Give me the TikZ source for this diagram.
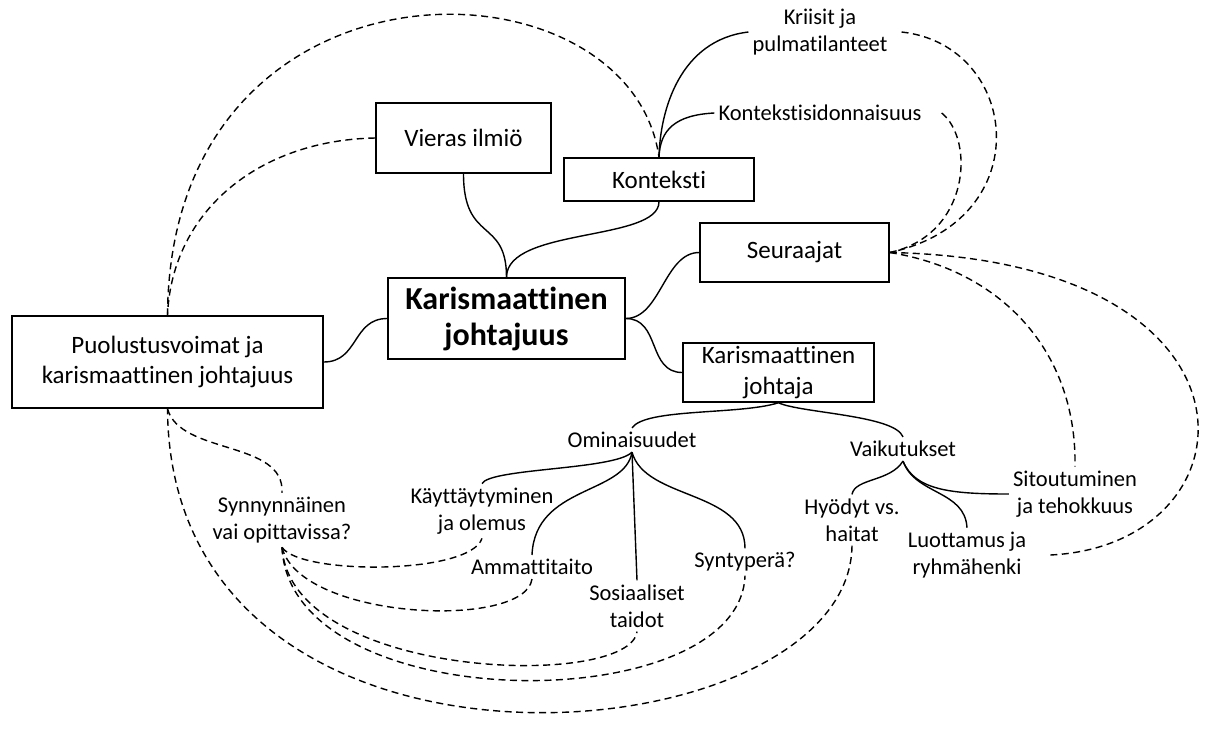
\documentclass[tikz,border=0pt]{standalone}
\usepackage{fontspec}
\setmainfont{Carlito}[Ligatures=NoCommon]
\usepackage{tikz}

\begin{document}
\begin{tikzpicture}[
  x=1pt, y=-1pt,
  box/.style={draw, line width=1.5pt, align=center, inner sep=0pt,
              font=\fontsize{25}{30.5}\selectfont},
  topic/.style={align=center, inner sep=4pt,
                font=\fontsize{22.5}{27}\selectfont},
  tie/.style={line width=1.4pt},
  rel/.style={line width=1.4pt, dash pattern=on 7pt off 4.5pt}]
\useasboundingbox (0,0) rectangle (1208,729);

% boxes
\node[box, minimum width=237pt, minimum height=81pt,
      font=\bfseries\fontsize{32}{36}\selectfont] (kj) at (506.5,318.5)
      {Karismaattinen\\johtajuus};
\node[box, minimum width=175pt, minimum height=70pt] (vieras) at (463.5,138) {Vieras ilmiö};
\node[box, minimum width=190pt, minimum height=43pt] (konteksti) at (659,179.5) {Konteksti};
\node[box, minimum width=189pt, minimum height=59pt] (seur) at (794.5,252.5) {Seuraajat};
\node[box, minimum width=191pt, minimum height=59pt] (johtaja) at (778.5,372.5)
      {Karismaattinen\\johtaja};
\node[box, minimum width=311pt, minimum height=92pt] (puol) at (167.5,362)
      {Puolustusvoimat ja\\karismaattinen johtajuus};

% free topics
\node[topic] (kriisit) at (820,32) {Kriisit ja\\pulmatilanteet};
\node[topic] (konsid) at (820,113) {Kontekstisidonnaisuus};
\node[topic] (omin) at (632,440) {Ominaisuudet};
\node[topic] (vaik) at (903,449) {Vaikutukset};
\node[topic] (kaytt) at (482,511) {Käyttäytyminen\\ja olemus};
\node[topic] (ammat) at (532,567) {Ammattitaito};
\node[topic] (sosial) at (637,606) {Sosiaaliset\\taidot};
\node[topic] (synty) at (745,562) {Syntyperä?};
\node[topic] (synn) at (282,520) {Synnynnäinen\\vai opittavissa?};
\node[topic] (hyod) at (852,520) {Hyödyt vs.\\haitat};
\node[topic] (luot) at (967,555) {Luottamus ja\\ryhmähenki};
\node[topic] (sitou) at (1075,494) {Sitoutuminen\\ja tehokkuus};

% tree
\draw[tie] (vieras.south) .. controls +(0,70) and +(0,-60) .. (kj.north);
\draw[tie] (konteksti.south) .. controls +(0,40) and +(0,-50) .. (kj.north);
\draw[tie] (kj.east) .. controls +(35,0) and +(-35,0) .. (seur.west);
\draw[tie] (kj.east) .. controls +(35,0) and +(-35,0) .. (johtaja.west);
\draw[tie] (kj.west) .. controls +(-35,0) and +(35,0) .. (puol.east);
\draw[tie] (kriisit.west) .. controls (680,40) and (660,110) .. (konteksti.north);
\draw[tie] (konsid.west) .. controls (675,115) and (660,130) .. (konteksti.north);
\draw[tie] (johtaja.south) .. controls (740,415) and (645,408) .. (omin.north);
\draw[tie] (johtaja.south) .. controls (800,413) and (895,415) .. (vaik.north);
\draw[tie] (omin.south) .. controls (615,470) and (490,468) .. (kaytt.north);
\draw[tie] (omin.south) .. controls (625,495) and (535,485) .. (ammat.north);
\draw[tie] (omin.south) -- (sosial.north);
\draw[tie] (omin.south) .. controls (645,500) and (745,490) .. (synty.north);
\draw[tie] (vaik.south) .. controls (890,482) and (855,478) .. (hyod.north);
\draw[tie] (vaik.south) .. controls (915,495) and (965,490) .. (luot.north);
\draw[tie] (vaik.south) .. controls (915,490) and (950,494) .. (sitou.west);

% relations
\draw[rel] (puol.north) .. controls (170,-60) and (630,-50) .. (konteksti.north);
\draw[rel] (vieras.west) .. controls (260,140) and (172,210) .. (puol.north);
\draw[rel] (puol.south) .. controls (180,455) and (285,440) .. (synn.north);
\draw[rel] (hyod.south) .. controls (850,760) and (170,820) .. (puol.south);
\draw[rel] (synn.south) .. controls (300,575) and (470,575) .. (kaytt.south);
\draw[rel] (synn.south) .. controls (300,620) and (525,630) .. (ammat.south);
\draw[rel] (synn.south) .. controls (290,680) and (630,690) .. (sosial.south);
\draw[rel] (synn.south) .. controls (290,720) and (740,720) .. (synty.south);
\draw[rel] ([xshift=10pt]kriisit.east) .. controls (1020,45) and (1040,220) .. (seur.east);
\draw[rel] ([xshift=16pt]konsid.east) .. controls (975,140) and (970,235) .. (seur.east);
\draw[rel] (seur.east) .. controls (1000,270) and (1077,350) .. (sitou.north);
\draw[rel] (seur.east) .. controls (1280,260) and (1260,545) .. ([xshift=20pt]luot.east);
\end{tikzpicture}
\end{document}
